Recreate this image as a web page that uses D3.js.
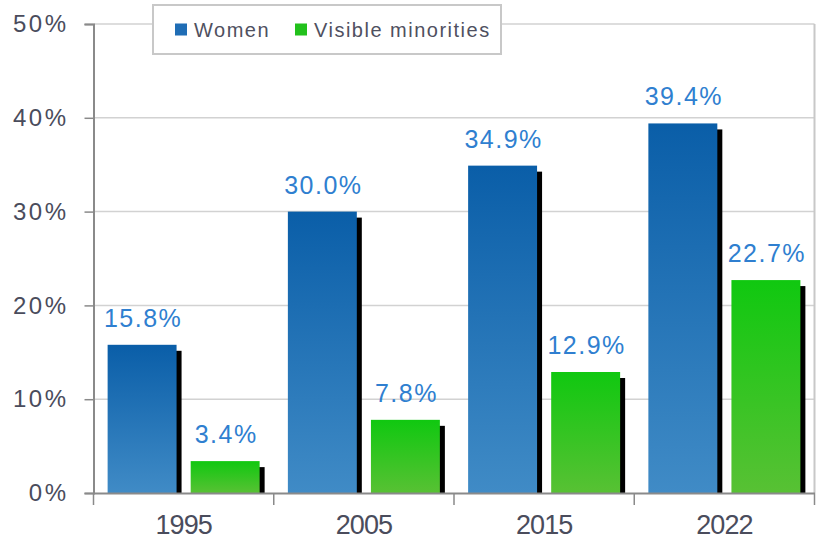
<!DOCTYPE html>
<html>
<head>
<meta charset="utf-8">
<script src="https://cdn.jsdelivr.net/npm/d3@7"></script>
<style>
  html, body { margin: 0; padding: 0; background: #ffffff; }
  svg { display: block; font-family: "Liberation Sans", Arial, sans-serif; }
</style>
</head>
<body>
<svg id="chart" width="817" height="539"></svg>
<script>
// ---- data ----
const categories = ["1995", "2005", "2015", "2022"];
const seriesNames = ["Women", "Visible minorities"];
const women = [15.8, 30.0, 34.9, 39.4];
const visibleMinorities = [3.4, 7.8, 12.9, 22.7];
const yTicks = [0, 10, 20, 30, 40, 50];

const seriesValues = [women, visibleMinorities];
const seriesColors = [
  { top: "#0a5ea8", bottom: "#408bc6", key: "#1f6db5" },
  { top: "#10c810", bottom: "#58c134", key: "#22c11c" }
];

const svg = d3.select("#chart");
const margin = { left: 93.5, right: 817 - 814.5, top: 24, bottom: 539 - 493 };
const W = 817, H = 539;

const x = d3.scaleBand().domain(categories).range([margin.left, W - margin.right]).paddingInner(0).paddingOuter(0);
const xs = d3.scaleBand().domain(seriesNames).range([0, x.bandwidth()]).paddingInner(0.17).paddingOuter(0.17);
const y = d3.scaleLinear().domain([0, 50]).range([H - margin.bottom, margin.top]);

// gradients
const defs = svg.append("defs");
seriesColors.forEach((c, i) => {
  const g = defs.append("linearGradient").attr("id", "grad" + i)
    .attr("x1", 0).attr("y1", 0).attr("x2", 0).attr("y2", 1)
    .attr("gradientUnits", "objectBoundingBox");
  g.append("stop").attr("offset", "0%").attr("stop-color", c.top);
  g.append("stop").attr("offset", "100%").attr("stop-color", c.bottom);
});

// gridlines
svg.append("g").selectAll("line").data(yTicks.filter(d => d > 0)).join("line")
  .attr("x1", margin.left).attr("x2", W - margin.right)
  .attr("y1", d => y(d)).attr("y2", d => y(d))
  .attr("stroke", "#d2d2d2").attr("stroke-width", 1.5);

// right border
svg.append("line")
  .attr("x1", W - margin.right).attr("x2", W - margin.right)
  .attr("y1", y(50)).attr("y2", y(0))
  .attr("stroke", "#c8c8c8").attr("stroke-width", 2);

// bars
const data = [];
categories.forEach((cat, ci) => {
  seriesNames.forEach((s, si) => {
    data.push({ cat, s, si, v: seriesValues[si][ci] });
  });
});

const barG = svg.append("g");
// shadows
barG.selectAll("rect.shadow").data(data).join("rect")
  .attr("class", "shadow")
  .attr("x", d => x(d.cat) + xs(d.s) + 5)
  .attr("y", d => y(d.v) + 6)
  .attr("width", xs.bandwidth())
  .attr("height", d => y(0) - y(d.v) - 6)
  .attr("fill", "#000");
// bars
barG.selectAll("rect.bar").data(data).join("rect")
  .attr("class", "bar")
  .attr("x", d => x(d.cat) + xs(d.s))
  .attr("y", d => y(d.v))
  .attr("width", xs.bandwidth())
  .attr("height", d => y(0) - y(d.v))
  .attr("fill", d => "url(#grad" + d.si + ")");

// value labels
barG.selectAll("text.lbl").data(data).join("text")
  .attr("class", "lbl")
  .attr("x", d => x(d.cat) + xs(d.s) + xs.bandwidth() / 2 + 1)
  .attr("y", d => y(d.v) - 18)
  .attr("text-anchor", "middle")
  .attr("font-size", 25)
  .attr("fill", "#2f7fd0")
  .style("letter-spacing", "1.5px")
  .text(d => d.v.toFixed(1) + "%");

// y axis
const yAxis = d3.axisLeft(y).tickValues(yTicks).tickFormat(d => d + "%").tickSize(9).tickPadding(16);
const yg = svg.append("g").attr("transform", `translate(${margin.left},0)`).call(yAxis);
yg.select(".domain").attr("stroke", "#8a8a8a").attr("stroke-width", 2);
yg.selectAll(".tick line").attr("stroke", "#8a8a8a").attr("stroke-width", 1.5);
yg.selectAll(".tick text")
  .attr("font-size", 24).attr("fill", "#4a4c5c")
  .attr("font-family", "Liberation Sans, Arial, sans-serif")
  .style("letter-spacing", "2.5px");

// x axis
const xAxis = d3.axisBottom(x).tickSize(0).tickPadding(22);
const xg = svg.append("g").attr("transform", `translate(0,${y(0)})`).call(xAxis);
xg.select(".domain").attr("stroke", "#8a8a8a").attr("stroke-width", 2);
xg.selectAll(".tick text")
  .attr("font-size", 27).attr("fill", "#4a4c5c")
  .attr("font-family", "Liberation Sans, Arial, sans-serif")
  .style("letter-spacing", "-1px");
// category separators
const sepPos = categories.map(c => x(c)).concat([x(categories[categories.length - 1]) + x.bandwidth()]);
xg.selectAll("line.sep").data(sepPos).join("line")
  .attr("class", "sep")
  .attr("x1", d => d).attr("x2", d => d)
  .attr("y1", 0).attr("y2", 12)
  .attr("stroke", "#8a8a8a").attr("stroke-width", 1.5);

// legend
const lg = svg.append("g");
lg.append("rect").attr("x", 153).attr("y", 5).attr("width", 348).attr("height", 49)
  .attr("fill", "#fff").attr("stroke", "#c8c8c8").attr("stroke-width", 2);
const legX = [175, 295];
seriesNames.forEach((s, i) => {
  lg.append("rect").attr("x", legX[i]).attr("y", 23.5).attr("width", 12).attr("height", 12)
    .attr("fill", seriesColors[i].key);
  lg.append("text").attr("x", legX[i] + 19).attr("y", 36.5)
    .attr("font-size", 20).attr("fill", "#4f5060")
    .style("letter-spacing", "1.5px")
    .text(s);
});
</script>
</body>
</html>
